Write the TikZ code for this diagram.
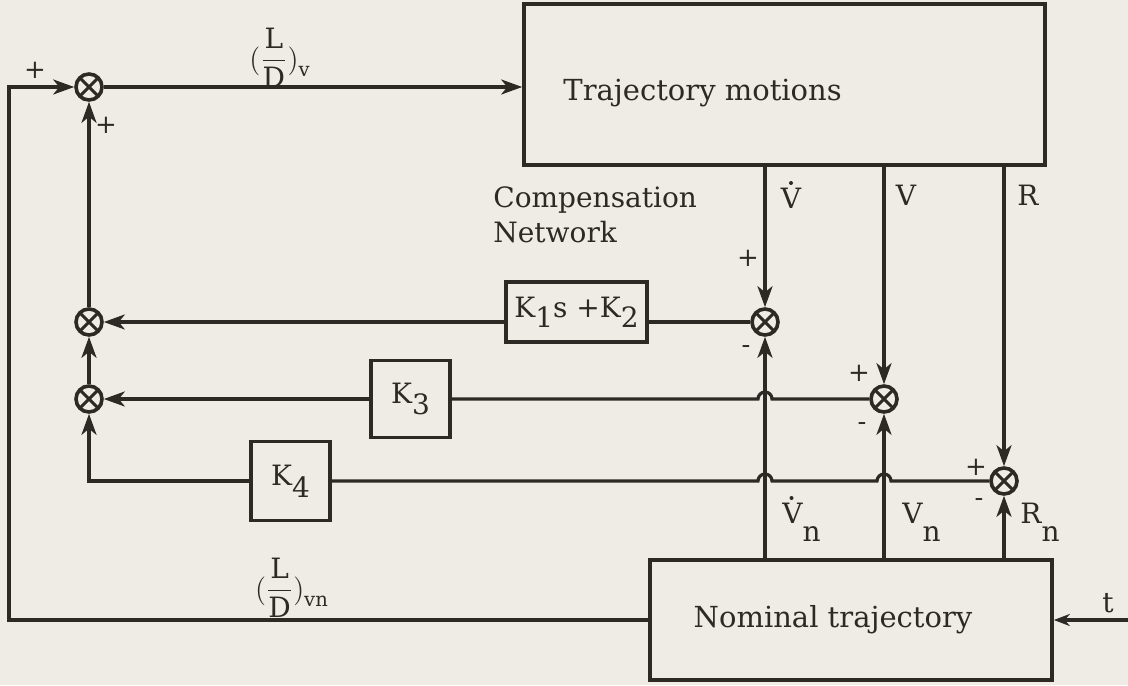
\documentclass[tikz,border=0pt]{standalone}
\usepackage{fontspec}
\setmainfont{DejaVu Serif}
\usetikzlibrary{arrows.meta}
\definecolor{ink}{RGB}{45,42,38}
\definecolor{paper}{RGB}{238,236,228}
\begin{document}
\begin{tikzpicture}[x=0.5pt,y=-0.5pt,
  ln/.style={line width=1.6pt, draw=ink},
  arr/.style={ln, -{Stealth[length=10.5pt,width=7.5pt,inset=3pt]}},
  blk/.style={draw=ink, line width=1.8pt, rectangle, inner sep=0pt, font=\fontsize{14}{16}\selectfont, text=ink},
  sum/.style={circle, draw=ink, line width=1.8pt, minimum size=13pt, inner sep=0pt,
    path picture={\draw[ink, line width=1.5pt] (path picture bounding box.north west) -- (path picture bounding box.south east) (path picture bounding box.north east) -- (path picture bounding box.south west);}},
  txt/.style={font=\fontsize{14}{17.5}\selectfont, text=ink, inner sep=0pt},
  sgn/.style={font=\fontsize{13}{15}\selectfont, text=ink, inner sep=0pt},
  dotacc/.style={fill=ink}
]
\fill[paper] (0,0) rectangle (1128,685);
\useasboundingbox (0,0) rectangle (1128,685);

% blocks
\node[blk, minimum width=260.5pt, minimum height=80.5pt] (traj) at (784.5,84.5) {};
\node[txt, anchor=west, font=\fontsize{14.5}{17}\selectfont] (trajt) at (563,93) {Trajectory motions};
\node[blk, minimum width=201pt, minimum height=60pt] (nom) at (851,620) {};
\node[txt, font=\fontsize{14.5}{17}\selectfont] (nomt) at (833,620) {Nominal trajectory};
\node[blk, minimum width=70.5pt, minimum height=30pt] (k12) at (576.5,312)
  {K\raisebox{-0.7ex}{1}s +K\raisebox{-0.7ex}{2}};
\node[blk, minimum width=39.5pt, minimum height=38.5pt] (k3) at (410.5,399) {K\raisebox{-0.8ex}{3}};
\node[blk, minimum width=39.5pt, minimum height=39.5pt] (k4) at (290.5,481) {K\raisebox{-0.8ex}{4}};

% summing junctions
\node[sum] (s1) at (89,87) {};
\node[sum] (s2) at (89,322) {};
\node[sum] (s3) at (89,399) {};
\node[sum] (sa) at (765,322) {};
\node[sum] (sb) at (884,399) {};
\node[sum] (sc) at (1004,481) {};

\coordinate (fb) at (9,620);
\coordinate (tin) at (1128,620);

% connectors
\draw[arr] (s1) -- (s1 -| traj.west);
\draw[arr] (sa |- traj.south) -- (sa);
\draw[arr] (sb |- traj.south) -- (sb);
\draw[arr] (sc |- traj.south) -- (sc);
\draw[arr] (sa |- nom.north) -- (sa);
\draw[arr] (sb |- nom.north) -- (sb);
\draw[arr] (sc |- nom.north) -- (sc);
\draw[ln] (sa) -- (sa -| k12.east);
\draw[arr] (s2 -| k12.west) -- (s2);
\draw[ln] (sb.west) -- ([xshift=3.5pt]sa |- sb) arc[start angle=0,end angle=180,radius=3.5pt] -- (k3.east);
\draw[arr] (k3.west) -- (s3);
\draw[ln] (sc.west) -- ([xshift=3.5pt]sb |- sc) arc[start angle=0,end angle=180,radius=3.5pt]
  -- ([xshift=3.5pt]sa |- sc) arc[start angle=0,end angle=180,radius=3.5pt] -- (k4.east);
\draw[arr] (k4.west) -| (s3);
\draw[arr] (s3) -- (s2);
\draw[arr] (s2) -- (s1);
\draw[arr] (nom.west) -- (fb) |- (s1);
\draw[ln, -{Stealth[length=8pt,width=6pt,inset=2.5pt]}] (tin) -- (nom.east);

% labels
\node[sgn] (p1) at (35,70) {+};
\node[sgn] (p2) at (106,125) {+};
\node[txt] (ldv) at (280,58) {$\Bigl({\displaystyle\frac{\mathrm{L}}{\mathrm{D}}}\Bigr)_{\mathrm{v}}$};
\node[txt] (ldvn) at (292,588) {$\Bigl({\displaystyle\frac{\mathrm{L}}{\mathrm{D}}}\Bigr)_{\mathrm{vn}}$};
\node[txt, anchor=north west, align=left] (comp) at (493,186) {Compensation\\Network};
\node[txt] (vd) at (791,198) {V};
\fill[dotacc] ([yshift=2.2pt]vd.north) circle (1pt);
\node[txt] (vv) at (906,195) {V};
\node[txt] (rr) at (1028,195) {R};
\node[txt, anchor=west] (vdn) at (782,522) {V\raisebox{-9pt}{n}};
\fill[dotacc] ([xshift=-5pt,yshift=2.2pt]vdn.north) circle (1pt);
\node[txt, anchor=west] (vn) at (902,522) {V\raisebox{-9pt}{n}};
\node[txt, anchor=west] (rn) at (1020,522) {R\raisebox{-9pt}{n}};
\node[sgn] (pa) at (748,258) {+};
\node[sgn] (ma) at (746,350) {-};
\node[sgn] (pb) at (859,373) {+};
\node[sgn] (mb) at (862,427) {-};
\node[sgn] (pc) at (976,467) {+};
\node[sgn] (mc) at (979,503) {-};
\node[txt] (tt) at (1108,603) {t};
\end{tikzpicture}
\end{document}
